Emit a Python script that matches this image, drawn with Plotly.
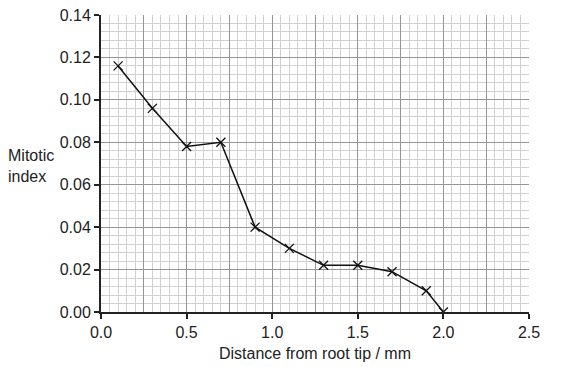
import plotly.graph_objects as go

distance = [0.1, 0.3, 0.5, 0.7, 0.9, 1.1, 1.3, 1.5, 1.7, 1.9, 2.0]
mitotic_index = [0.116, 0.096, 0.078, 0.080, 0.040, 0.030, 0.022, 0.022, 0.019, 0.010, 0.000]

x_range = [0, 2.5]
y_range = [0, 0.14]

fig = go.Figure()
fig.add_trace(go.Scatter(
    x=distance, y=mitotic_index, mode="lines+markers",
    line=dict(color="#111111", width=1.5),
    marker=dict(symbol="x-thin", size=9, line=dict(color="#111111", width=1.3)),
    showlegend=False, hoverinfo="skip"))
# helper trace to register overlay axis for 0.25 grid
fig.add_trace(go.Scatter(x=[None], y=[None], xaxis="x2", yaxis="y",
                         showlegend=False, hoverinfo="skip"))

font_main = "Liberation Sans, Arial, sans-serif"
major_col = "#959595"
minor_col = "#d0d0d0"

fig.update_layout(
    width=569, height=367,
    margin=dict(l=93, r=48, t=7, b=63, autoexpand=False),
    paper_bgcolor="white", plot_bgcolor="white",
    font=dict(family=font_main, size=16, color="#222222"),
    xaxis=dict(
        range=x_range, dtick=0.5, tick0=0, tickformat=".1f",
        ticks="outside", ticklen=5, tickwidth=1.5, tickcolor="#222",
        showline=True, linecolor="#222", linewidth=2,
        showgrid=True, gridcolor=major_col, gridwidth=1.2,
        zeroline=False, mirror=False, automargin=False,
        ticklabeloverflow="allow",
        minor=dict(dtick=0.05, showgrid=True, gridcolor=minor_col, gridwidth=1, ticks=""),
        title=dict(text="Distance from root tip / mm", font=dict(size=16), standoff=8),
        tickfont=dict(size=16),
    ),
    xaxis2=dict(
        range=x_range, dtick=0.25, tick0=0, overlaying="x", anchor="y",
        showgrid=True, gridcolor=major_col, gridwidth=1.2,
        showticklabels=False, ticks="", showline=False, zeroline=False,
        automargin=False,
    ),
    yaxis=dict(
        range=y_range, dtick=0.02, tick0=0, tickformat=".2f",
        ticks="outside", ticklen=5, tickwidth=1.5, tickcolor="#222",
        showline=True, linecolor="#222", linewidth=2,
        showgrid=True, gridcolor=major_col, gridwidth=1.2,
        zeroline=False, automargin=False,
        ticklabeloverflow="allow",
        minor=dict(dtick=0.004, showgrid=True, gridcolor=minor_col, gridwidth=1, ticks=""),
        tickfont=dict(size=16),
    ),
    annotations=[dict(
        text="Mitotic<br>index", xref="paper", yref="paper",
        x=-0.222, y=0.49, xanchor="left", yanchor="middle", align="left",
        showarrow=False, font=dict(size=16, color="#222222"))],
)

fig.write_html("out.html")
